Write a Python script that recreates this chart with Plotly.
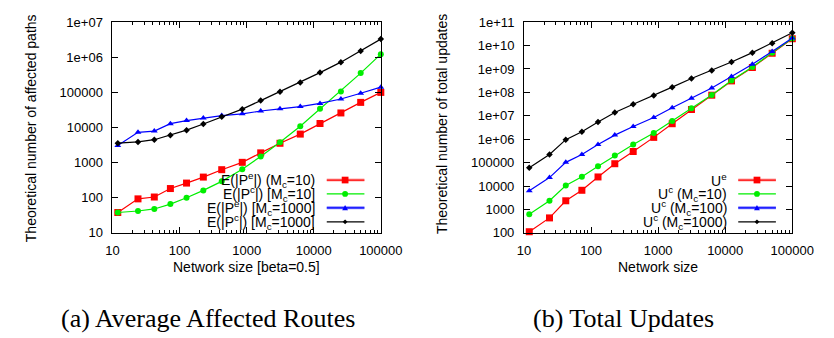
import plotly.graph_objects as go

# ---------------- data ----------------
network_size = [12, 24, 42, 73, 127, 226, 425, 860, 1620, 3140, 6300, 12400, 25400, 50100, 100000]

# (a) Average affected routes
pe_mc10 = [38, 93, 105, 183, 262, 388, 630, 1020, 1900, 3560, 6500, 13000, 26000, 52000, 100000]
pc_mc10 = [38, 42, 48, 66, 100, 162, 293, 650, 1500, 3800, 10900, 34000, 107000, 355000, 1230000]
pe_mc1000 = [3100, 7300, 7900, 12900, 15800, 18600, 21900, 24500, 29500, 34000, 39600, 48700, 65000, 94700, 141000]
pc_mc1000 = [3580, 3900, 4500, 6000, 8400, 12600, 20400, 33400, 58500, 105000, 192000, 366000, 727000, 1500000, 3300000]

# (b) Total updates
u_e = [112, 436, 2350, 6600, 24500, 90000, 300000, 1.2e6, 4.6e6, 1.86e7, 7.6e7, 3.1e8, 1.16e9, 4.7e9, 1.96e10]
u_c_mc10 = [630, 2350, 10500, 25000, 70000, 2.0e5, 5.9e5, 1.86e6, 6.0e6, 2.1e7, 7.8e7, 3.2e8, 1.22e9, 5.0e9, 2.0e10]
u_c_mc100 = [6300, 23000, 103000, 224000, 5.9e5, 1.5e6, 3.5e6, 8.5e6, 2.2e7, 5.6e7, 1.55e8, 4.8e8, 1.6e9, 5.6e9, 2.1e10]
u_c_mc1000 = [60000, 224000, 960000, 2.1e6, 5.45e6, 1.38e7, 3.1e7, 7.3e7, 1.68e8, 3.9e8, 8.6e8, 2.0e9, 5.0e9, 1.26e10, 3.5e10]

labels_a = ["E(|P<sup>e</sup>|) (M<sub>c</sub>=10)",
            "E(|P<sup>c</sup>|) [M<sub>c</sub>=10]",
            "E(|P<sup>e</sup>|) [M<sub>c</sub>=1000]",
            "E(|P<sup>c</sup>|) [M<sub>c</sub>=1000]"]
labels_b = ["U<sup>e</sup>",
            "U<sup>c</sup> (M<sub>c</sub>=10)",
            "U<sup>c</sup> (M<sub>c</sub>=100)",
            "U<sup>c</sup> (M<sub>c</sub>=1000)"]

x_tickvals = [10, 100, 1000, 10000, 100000]
x_ticktext = ["10", "100", "1000", "10000", "100000"]
ya_tickvals = [10, 100, 1000, 10000, 100000, 1e6, 1e7]
ya_ticktext = ["10", "100", "1000", "10000", "100000", "1e+06", "1e+07"]
yb_tickvals = [100, 1000, 10000, 100000, 1e6, 1e7, 1e8, 1e9, 1e10, 1e11]
yb_ticktext = ["100", "1000", "10000", "100000", "1e+06", "1e+07", "1e+08", "1e+09", "1e+10", "1e+11"]

captions = ["(a) Average Affected Routes", "(b) Total Updates"]
ytitles = ["Theoretical number of affected paths", "Theoretical number of total updates"]
xtitles = ["Network size [beta=0.5]", "Network size"]

# ---------------- style ----------------
W, H = 834, 338
COLORS = ["#ff0000", "#00ee00", "#0000ff", "#000000"]
SYMBOLS = ["square", "circle", "triangle-up", "diamond"]
SIZES = [7, 6, 6, 5]
SANS = "Liberation Sans"
SERIF = "Liberation Serif"


def px(x):
    return x / W


def py(y):
    return 1 - y / H


fig = go.Figure()

series_a = [pe_mc10, pc_mc10, pe_mc1000, pc_mc1000]
series_b = [u_e, u_c_mc10, u_c_mc100, u_c_mc1000]

for i, ys in enumerate(series_a):
    fig.add_trace(go.Scatter(x=network_size, y=ys, mode="lines+markers", name=labels_a[i],
                             line=dict(color=COLORS[i], width=1.2),
                             marker=dict(symbol=SYMBOLS[i], size=SIZES[i], color=COLORS[i]),
                             cliponaxis=False, showlegend=False, xaxis="x", yaxis="y"))
for i, ys in enumerate(series_b):
    fig.add_trace(go.Scatter(x=network_size, y=ys, mode="lines+markers", name=labels_b[i],
                             line=dict(color=COLORS[i], width=1.2),
                             marker=dict(symbol=SYMBOLS[i], size=SIZES[i], color=COLORS[i]),
                             cliponaxis=False, showlegend=False, xaxis="x2", yaxis="y2"))

minor_x = [m * 10 ** e for e in range(1, 5) for m in range(2, 10)]

axis_common = dict(type="log", showline=True, linecolor="black", linewidth=1, mirror="allticks",
                   ticks="inside", ticklen=6, tickcolor="black", tickwidth=1, showgrid=False,
                   zeroline=False, tickfont=dict(family=SANS, size=13, color="black"),
                   tickmode="array", ticklabelstandoff=6)

xa = dict(axis_common, domain=[px(101), px(379)], range=[1, 5], tickvals=x_tickvals, ticktext=x_ticktext,
          minor=dict(tickmode="array", tickvals=minor_x, ticks="inside", ticklen=3, tickcolor="black"),
          anchor="y")
xb = dict(axis_common, domain=[px(527.3), px(805.3)], range=[1, 5], tickvals=x_tickvals, ticktext=x_ticktext,
          minor=dict(tickmode="array", tickvals=minor_x, ticks="inside", ticklen=3, tickcolor="black"),
          anchor="y2")
ya = dict(axis_common, domain=[py(228), py(7.5)], range=[1, 7], tickvals=ya_tickvals, ticktext=ya_ticktext,
          anchor="x")
yb = dict(axis_common, domain=[py(228), py(7.5)], range=[2, 11], tickvals=yb_tickvals, ticktext=yb_ticktext,
          anchor="x2")

annotations = []
shapes = []

# axis titles
annotations.append(dict(text=xtitles[0], x=px(240), y=py(264), xref="paper", yref="paper",
                        showarrow=False, font=dict(family=SANS, size=14, color="black"),
                        xanchor="center", yanchor="middle"))
annotations.append(dict(text=xtitles[1], x=px(666), y=py(264), xref="paper", yref="paper",
                        showarrow=False, font=dict(family=SANS, size=14, color="black"),
                        xanchor="center", yanchor="middle"))
annotations.append(dict(text=ytitles[0], x=px(16), y=py(118), xref="paper", yref="paper", textangle=-90,
                        showarrow=False, font=dict(family=SANS, size=14, color="black"),
                        xanchor="center", yanchor="middle"))
annotations.append(dict(text=ytitles[1], x=px(442.5), y=py(114), xref="paper", yref="paper", textangle=-90,
                        showarrow=False, font=dict(family=SANS, size=14, color="black"),
                        xanchor="center", yanchor="middle"))

# captions
annotations.append(dict(text=captions[0], x=px(200), y=py(318), xref="paper", yref="paper",
                        showarrow=False, font=dict(family=SERIF, size=26, color="black"),
                        xanchor="center", yanchor="middle"))
annotations.append(dict(text=captions[1], x=px(630), y=py(318), xref="paper", yref="paper",
                        showarrow=False, font=dict(family=SERIF, size=26, color="black"),
                        xanchor="center", yanchor="middle"))

# gnuplot-style legends (text right, sample on the right)
rows_y = [172.7, 187.2, 201.8, 216.4]


def add_legend(labels, text_right, line_x0, line_x1, mark_x):
    for i, lab in enumerate(labels):
        yy = rows_y[i]
        annotations.append(dict(text=lab, x=px(text_right), y=py(yy), xref="paper", yref="paper",
                                showarrow=False, font=dict(family=SANS, size=14, color="black"),
                                xanchor="right", yanchor="middle"))
        if i == 0:
            shapes.append(dict(type="line", xref="paper", yref="paper", x0=px(line_x0), x1=px(line_x1),
                               y0=py(yy), y1=py(yy), line=dict(color="#ffaaaa", width=3)))
        if i == 2:
            shapes.append(dict(type="line", xref="paper", yref="paper", x0=px(line_x0), x1=px(line_x1),
                               y0=py(yy), y1=py(yy), line=dict(color="#8888ff", width=3)))
        shapes.append(dict(type="line", xref="paper", yref="paper", x0=px(line_x0), x1=px(line_x1),
                           y0=py(yy), y1=py(yy), line=dict(color=COLORS[i], width=1.2)))
        s = SIZES[i] / 2
        if SYMBOLS[i] == "square":
            shapes.append(dict(type="rect", xref="paper", yref="paper", x0=px(mark_x - s), x1=px(mark_x + s),
                               y0=py(yy - s), y1=py(yy + s), fillcolor=COLORS[i], line=dict(width=0)))
        elif SYMBOLS[i] == "circle":
            shapes.append(dict(type="circle", xref="paper", yref="paper", x0=px(mark_x - s), x1=px(mark_x + s),
                               y0=py(yy - s), y1=py(yy + s), fillcolor=COLORS[i], line=dict(width=0)))
        elif SYMBOLS[i] == "triangle-up":
            path = "M {:.5f} {:.5f} L {:.5f} {:.5f} L {:.5f} {:.5f} Z".format(
                px(mark_x), py(yy - s), px(mark_x - s), py(yy + s * 0.8), px(mark_x + s), py(yy + s * 0.8))
            shapes.append(dict(type="path", xref="paper", yref="paper", path=path,
                               fillcolor=COLORS[i], line=dict(width=0)))
        else:
            path = "M {:.5f} {:.5f} L {:.5f} {:.5f} L {:.5f} {:.5f} L {:.5f} {:.5f} Z".format(
                px(mark_x), py(yy - s), px(mark_x + s), py(yy), px(mark_x), py(yy + s), px(mark_x - s), py(yy))
            shapes.append(dict(type="path", xref="paper", yref="paper", path=path,
                               fillcolor=COLORS[i], line=dict(width=0)))


add_legend(labels_a, 313, 323, 362, 342)
add_legend(labels_b, 739.3, 749.3, 788.3, 768.7)

fig.update_layout(width=W, height=H, margin=dict(l=0, r=0, t=0, b=0),
                  paper_bgcolor="white", plot_bgcolor="white", showlegend=False,
                  xaxis=xa, yaxis=ya, xaxis2=xb, yaxis2=yb,
                  annotations=annotations, shapes=shapes,
                  font=dict(family=SANS, color="black"))

fig.write_html("out.html")
